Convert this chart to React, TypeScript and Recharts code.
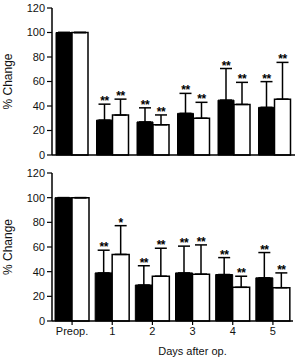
import React from 'react';
import { BarChart, Bar, XAxis, YAxis, ErrorBar, LabelList } from 'recharts';

const categories = ['Preop.', '1', '2', '3', '4', '5'];
const yTicks = [0, 20, 40, 60, 80, 100, 120];

const topBlack = [100, 28.5, 27, 34, 44.8, 38.9];
const topBlackSd = [0, 13, 11.5, 16.3, 25.8, 21];
const topBlackSig = ['', '**', '**', '**', '**', '**'];
const topWhite = [100, 32.6, 24.7, 30, 41.3, 45.6];
const topWhiteSd = [0, 13, 8, 13, 18, 30];
const topWhiteSig = ['', '**', '**', '**', '**', '**'];

const botBlack = [100, 39, 29.2, 39, 37.7, 35];
const botBlackSd = [0, 18.4, 15.6, 21.7, 13.7, 20.5];
const botBlackSig = ['', '**', '**', '**', '**', '**'];
const botWhite = [100, 54, 36.3, 38, 27.3, 27];
const botWhiteSd = [0, 23.3, 22.7, 23.7, 9, 12];
const botWhiteSig = ['', '*', '**', '**', '**', '**'];

const FONT = '"Liberation Sans", Arial, sans-serif';
const INK = '#111';

function buildData(b: number[], bs: number[], bg: string[], w: number[], ws: number[], wg: string[]) {
  return categories.map((name, i) => ({
    name,
    black: b[i],
    blackErr: [0, bs[i]],
    blackSig: bg[i],
    white: w[i],
    whiteErr: [0, ws[i]],
    whiteSig: wg[i],
  }));
}

const topData = buildData(topBlack, topBlackSd, topBlackSig, topWhite, topWhiteSd, topWhiteSig);
const botData = buildData(botBlack, botBlackSd, botBlackSig, botWhite, botWhiteSd, botWhiteSig);

function sigRenderer(values: number[], sds: number[]) {
  return (props: any) => {
    const { x, y, width, height, value, index } = props;
    if (!value) return null;
    const v = values[index];
    const pxPerUnit = v ? height / v : 0;
    const top = y - sds[index] * pxPerUnit;
    return (
      <text
        x={x + width / 2}
        y={top + 1}
        textAnchor="middle"
        fontSize={12}
        fontWeight="bold"
        fontFamily={FONT}
        fill="#000"
        style={{ letterSpacing: '-0.5px' }}
      >
        {value}
      </text>
    );
  };
}

const tickStyle = { fontSize: 11, fill: INK, fontFamily: FONT };

function Panel(props: {
  data: any[];
  height: number;
  bottom: boolean;
  b: number[];
  bs: number[];
  w: number[];
  ws: number[];
}) {
  const { data, height, bottom, b, bs, w, ws } = props;
  return (
    <BarChart
      width={300}
      height={height}
      data={data}
      margin={{ top: 8, right: bottom ? 7 : 5, left: 0, bottom: 0 }}
      barCategoryGap={bottom ? 3 : 4}
      barGap={0}
    >
      <YAxis
        domain={[0, 120]}
        ticks={yTicks}
        width={52}
        axisLine={{ stroke: '#000', strokeWidth: 1.5 }}
        tickLine={{ stroke: '#000', strokeWidth: 1.2 }}
        tickSize={5}
        tickMargin={2}
        tick={tickStyle}
        interval={0}
        label={{
          value: '% Change',
          angle: -90,
          position: 'insideLeft',
          offset: 8,
          style: { textAnchor: 'middle', fontSize: 12, fill: INK, fontFamily: FONT },
        }}
      />
      <XAxis
        dataKey="name"
        height={bottom ? 39 : 10}
        axisLine={{ stroke: '#000', strokeWidth: 1.5 }}
        tickLine={bottom ? { stroke: '#000', strokeWidth: 1.2 } : false}
        tick={bottom ? tickStyle : false}
        tickSize={4}
        tickMargin={2}
        interval={0}
        label={
          bottom
            ? {
                value: 'Days after op.',
                position: 'insideBottom',
                offset: 5,
                dx: 20,
                style: { fontSize: 11, fill: INK, fontFamily: FONT },
              }
            : undefined
        }
      />
      <Bar dataKey="black" fill="#000" stroke="#000" strokeWidth={1} isAnimationActive={false}>
        <ErrorBar dataKey="blackErr" width={6} stroke="#000" strokeWidth={1.5} direction="y" />
        <LabelList dataKey="blackSig" content={sigRenderer(b, bs)} />
      </Bar>
      <Bar dataKey="white" fill="#fff" stroke="#000" strokeWidth={1.5} isAnimationActive={false}>
        <ErrorBar dataKey="whiteErr" width={6} stroke="#000" strokeWidth={1.5} direction="y" />
        <LabelList dataKey="whiteSig" content={sigRenderer(w, ws)} />
      </Bar>
    </BarChart>
  );
}

export default function App() {
  return (
    <div style={{ position: 'absolute', left: 0, top: 0, width: 300, height: 360, background: '#fff' }}>
      <Panel data={topData} height={165} bottom={false} b={topBlack} bs={topBlackSd} w={topWhite} ws={topWhiteSd} />
      <Panel data={botData} height={195} bottom={true} b={botBlack} bs={botBlackSd} w={botWhite} ws={botWhiteSd} />
    </div>
  );
}
